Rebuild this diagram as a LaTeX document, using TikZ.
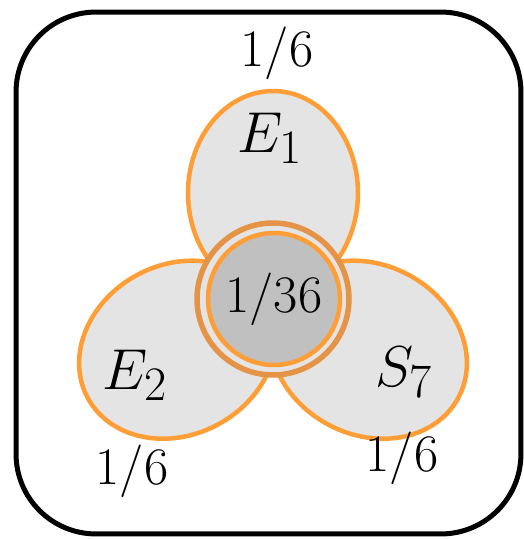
\documentclass[tikz,border=0pt]{standalone}
\usepackage{fontspec}
\usepackage{xcolor}
\usepackage{tikz}
\usetikzlibrary{shapes.geometric}

\definecolor{petalline}{RGB}{255,158,54}
\definecolor{ringline}{RGB}{228,148,70}
\definecolor{petalfill}{RGB}{228,228,228}
\definecolor{corefill}{RGB}{192,192,192}

\begin{document}
\begin{tikzpicture}[
  x=0.02cm, y=0.02cm,
  petal/.style={ellipse, draw=petalline, fill=petalfill, line width=0.09cm, minimum width=3.4cm, minimum height=4.08cm, inner sep=0pt},
  ring/.style={circle, draw=ringline, fill=petalfill, line width=0.11cm, minimum size=3.04cm, inner sep=0pt},
  core/.style={circle, draw=petalline, fill=corefill, line width=0.09cm, minimum size=2.64cm, inner sep=0pt, font=\fontsize{30}{36}\selectfont},
  prob/.style={font=\fontsize{30}{36}\selectfont},
  event/.style={font=\Huge, scale=1.32, transform shape},
  samplespace/.style={rectangle, draw, line width=0.1cm, rounded corners=1.6cm, minimum width=10.1cm, minimum height=10.44cm}
]
\useasboundingbox (-273,-240) rectangle (251,299);

% outcome space
\node[samplespace] (omega) at (-4.5,26) {};

% the three events
\node[petal] (e1) at (0,106) {};
\node[petal, rotate=118] (e2) at (-95.4,-50.7) {};
\node[petal, rotate=-118] (s7) at (95.4,-50.7) {};

% intersection
\node[ring] (both) at (0,0) {};
\node[core] (mid) at (1,0) {1/36};

% labels
\node[event] (lab1) at (-3,161) {$E_1$};
\node[event] (lab2) at (-138,-76) {$E_2$};
\node[event] (lab3) at (131,-73) {$S_7$};

\node[prob] (p1) at (4,246) {1/6};
\node[prob] (p2) at (-141,-172) {1/6};
\node[prob] (p3) at (129,-159) {1/6};

\end{tikzpicture}
\end{document}
